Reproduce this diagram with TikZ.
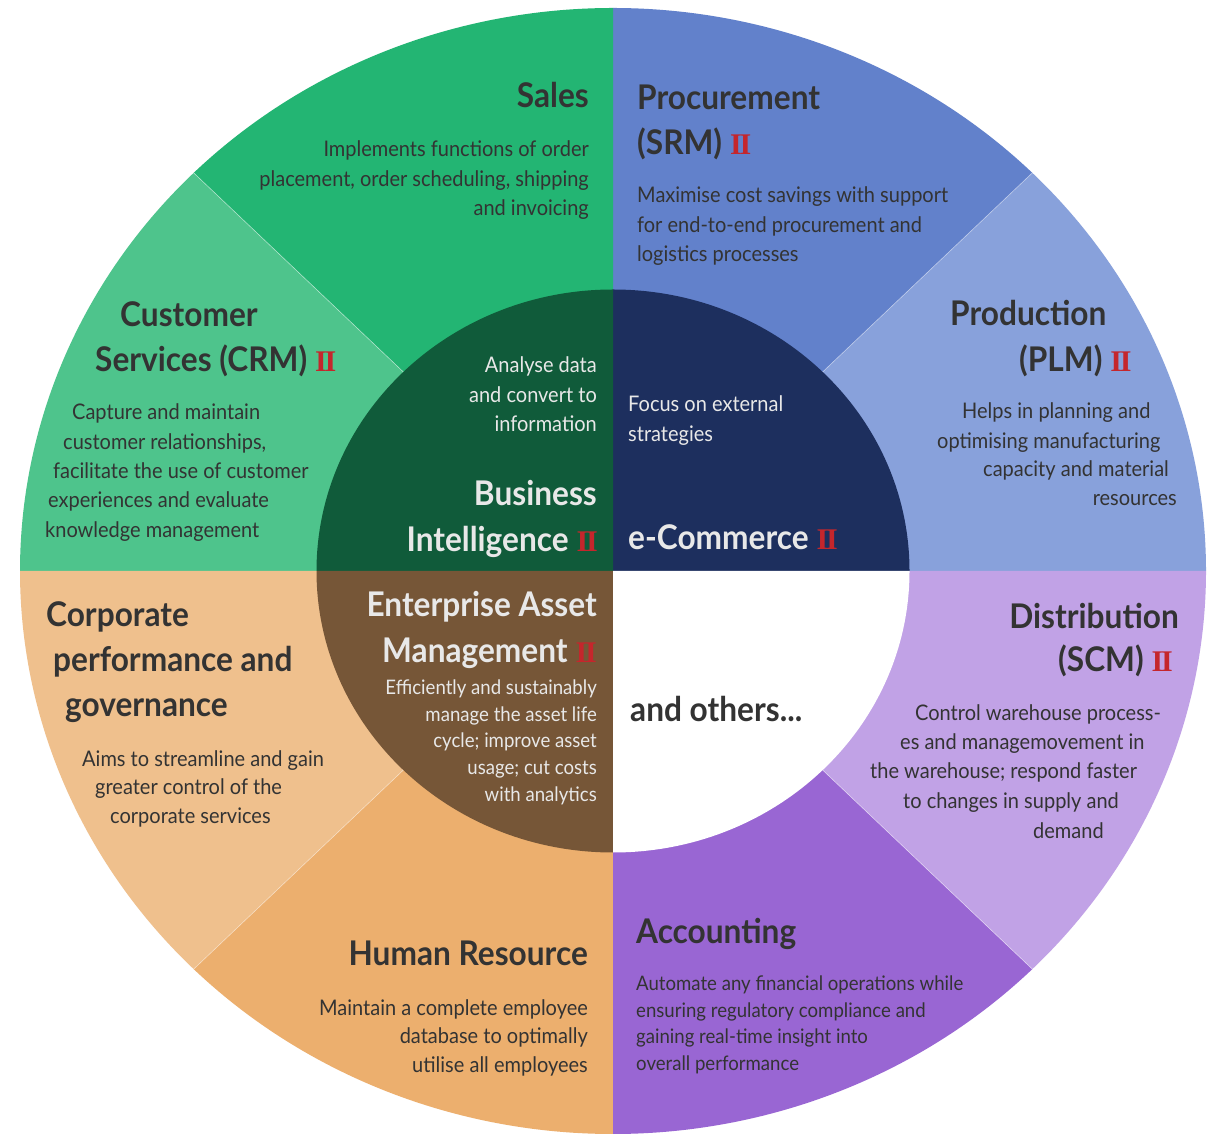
\documentclass[tikz,border=0pt]{standalone}
\usepackage{fontspec}
\setmainfont{Lato}[FakeStretch=0.93]
\newfontfamily\iifont{Liberation Serif}
\definecolor{cSales}{HTML}{23B573}
\definecolor{cCrm}{HTML}{4EC48C}
\definecolor{cProc}{HTML}{6281CB}
\definecolor{cProd}{HTML}{88A1DB}
\definecolor{cDist}{HTML}{C1A2E6}
\definecolor{cAcc}{HTML}{9966D3}
\definecolor{cHr}{HTML}{ECAF6E}
\definecolor{cCorp}{HTML}{EFC08D}
\definecolor{cBi}{HTML}{105B3A}
\definecolor{cEc}{HTML}{1D2F5E}
\definecolor{cEam}{HTML}{765637}
\definecolor{txt}{HTML}{333333}
\definecolor{itxt}{HTML}{E8E8E8}
\definecolor{iired}{HTML}{C5262C}
\newcommand\redII{\hspace{8pt}{\iifont\bfseries\fontsize{30}{30}\selectfont\color{iired}I\kern-2.2pt I}}
\newcommand\ringsector[3]{\fill[#3] (613,562) -- ++(#1:593 and 563) arc[start angle=#1, end angle=#2, x radius=593, y radius=563] -- cycle;}
\newcommand\innersector[3]{\fill[#3] (613,562) -- ++(#1:296.5 and 281.5) arc[start angle=#1, end angle=#2, x radius=296.5, y radius=281.5] -- cycle;}
\begin{document}
\begin{tikzpicture}[x=1pt,y=1pt,
  head/.style={font=\fontsize{34}{34}\selectfont\bfseries, text=txt, inner sep=0pt},
  body/.style={font=\fontsize{21.5}{21.5}\selectfont, text=txt, inner sep=0pt},
  ihead/.style={head, text=itxt},
  ibody/.style={body, text=itxt},
  sbody/.style={font=\fontsize{20}{20}\selectfont, text=txt, inner sep=0pt},
  sibody/.style={sbody, text=itxt}]
\useasboundingbox (0,0) rectangle (1220,1133);
\fill[white] (0,0) rectangle (1220,1133);
% outer ring
\ringsector{0}{45}{cProd}
\ringsector{45}{90}{cProc}
\ringsector{90}{135}{cSales}
\ringsector{135}{180}{cCrm}
\ringsector{180}{225}{cCorp}
\ringsector{225}{270}{cHr}
\ringsector{270}{315}{cAcc}
\ringsector{315}{360}{cDist}
\foreach \a in {45,135,225,315}
  \draw[white, opacity=0.5, line width=0.6pt] (613,562) -- ++(\a:593 and 563);
% inner quadrants
\innersector{0}{90}{cEc}
\innersector{90}{180}{cBi}
\innersector{180}{270}{cEam}
\innersector{270}{360}{white}

% Sales
\node[head, anchor=base east] (salesH) at (589,1025) {Sales};
\node[body, anchor=base east] (sales1) at (589,976) {Implements functions of order};
\node[body, anchor=base east] (sales2) at (589,946) {placement, order scheduling, shipping};
\node[body, anchor=base east] (sales3) at (589,917) {and invoicing};

% Procurement
\node[head, anchor=base west] (procH1) at (637,1023) {Procurement};
\node[head, anchor=base west] (procH2) at (637,978) {(SRM)\redII};
\node[body, anchor=base west] (proc1) at (637,930) {Maximise cost savings with support};
\node[body, anchor=base west] (proc2) at (637,900) {for end-to-end procurement and};
\node[body, anchor=base west] (proc3) at (637,871) {logistics processes};

% Customer services
\node[head, anchor=base west] (csH1) at (120,806) {Customer};
\node[head, anchor=base west] (csH2) at (95,761) {Services (CRM)\redII};
\node[body, anchor=base west] (cs1) at (72,713) {Capture and maintain};
\node[body, anchor=base west] (cs2) at (63,683) {customer relationships,};
\node[body, anchor=base west] (cs3) at (53,654) {facilitate the use of customer};
\node[body, anchor=base west] (cs4) at (48,625) {experiences and evaluate};
\node[body, anchor=base west] (cs5) at (45,595) {knowledge management};

% Production
\node[head, anchor=base west] (prodH1) at (950,807) {Production};
\node[head, anchor=base west] (prodH2) at (1019,761) {(PLM)\redII};
\node[body, anchor=base west] (prod1) at (962,714) {Helps in planning and};
\node[body, anchor=base west] (prod2) at (937,684) {optimising manufacturing};
\node[body, anchor=base west] (prod3) at (983,656) {capacity and material};
\node[body, anchor=base east] (prod4) at (1177,627) {resources};

% Distribution
\node[head, anchor=base east] (distH1) at (1179,504) {Distribution};
\node[head, anchor=base west] (distH2) at (1058,461) {(SCM)\redII};
\node[body, anchor=base west] (dist1) at (915,412) {Control warehouse process-};
\node[body, anchor=base west] (dist2) at (900,383) {es and managemovement in};
\node[body, anchor=base west] (dist3) at (870,354) {the warehouse; respond faster};
\node[body, anchor=base west] (dist4) at (903,325) {to changes in supply and};
\node[body, anchor=base west] (dist5) at (1033,295) {demand};

% Accounting
\node[head, anchor=base west] (accH) at (636,190) {Accounting};
\node[sbody, anchor=base west] (acc1) at (636,143) {Automate any financial operations while};
\node[sbody, anchor=base west] (acc2) at (636,116) {ensuring regulatory compliance and};
\node[sbody, anchor=base west] (acc3) at (636,90) {gaining real-time insight into};
\node[sbody, anchor=base west] (acc4) at (636,63) {overall performance};

% Human Resource
\node[head, anchor=base east] (hrH) at (588,168) {Human Resource};
\node[body, anchor=base east] (hr1) at (588,118) {Maintain a complete employee};
\node[body, anchor=base east] (hr2) at (588,90) {database to optimally};
\node[body, anchor=base east] (hr3) at (588,61) {utilise all employees};

% Corporate
\node[head, anchor=base west] (corpH1) at (46,506) {Corporate};
\node[head, anchor=base west] (corpH2) at (53,461) {performance and};
\node[head, anchor=base west] (corpH3) at (65,416) {governance};
\node[body, anchor=base west] (corp1) at (82,366) {Aims to streamline and gain};
\node[body, anchor=base west] (corp2) at (95,338) {greater control of the};
\node[body, anchor=base west] (corp3) at (110,310) {corporate services};

% and others
\node[head, anchor=base west] (others) at (630,411) {and others...};

% Business Intelligence
\node[ibody, anchor=base east] (bi1) at (597,760) {Analyse data};
\node[ibody, anchor=base east] (bi2) at (597,730) {and convert to};
\node[ibody, anchor=base east] (bi3) at (597,701) {information};
\node[ihead, anchor=base east] (biH1) at (597,627) {Business};
\node[ihead, anchor=base east] (biH2) at (598,581) {Intelligence\redII};

% e-Commerce
\node[ibody, anchor=base west] (ec1) at (628,721) {Focus on external};
\node[ibody, anchor=base west] (ec2) at (628,691) {strategies};
\node[ihead, anchor=base west] (ecH) at (628,583) {e-Commerce\redII};

% Enterprise Asset Management
\node[ihead, anchor=base east] (eamH1) at (597,516) {Enterprise Asset};
\node[ihead, anchor=base east] (eamH2) at (597,470) {Management\redII};
\node[sibody, anchor=base east] (eam1) at (597,438) {Efficiently and sustainably};
\node[sibody, anchor=base east] (eam2) at (597,411) {manage the asset life};
\node[sibody, anchor=base east] (eam3) at (597,385) {cycle; improve asset};
\node[sibody, anchor=base east] (eam4) at (597,358) {usage; cut costs};
\node[sibody, anchor=base east] (eam5) at (597,331) {with analytics};
\end{tikzpicture}
\end{document}
